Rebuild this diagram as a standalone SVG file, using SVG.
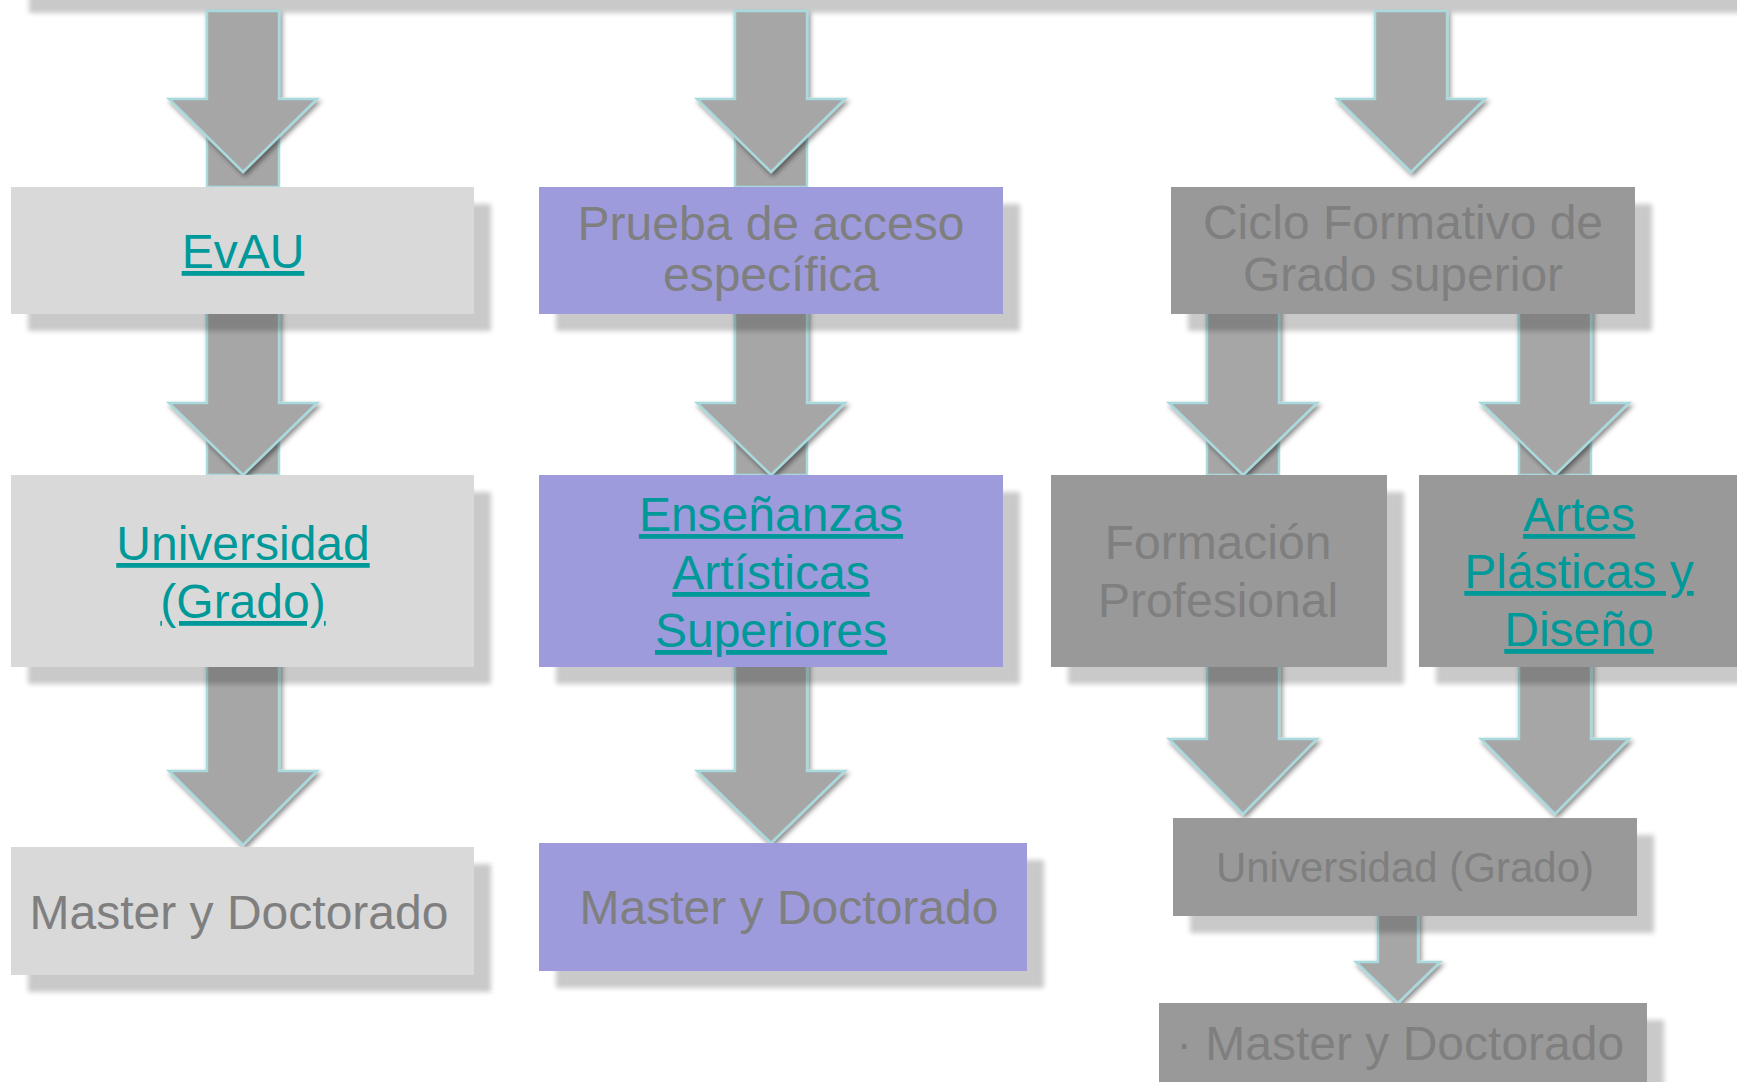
<svg xmlns="http://www.w3.org/2000/svg" width="1737" height="1082" viewBox="0 0 1737 1082">
<defs>
<style>
.t{font-family:"Liberation Sans",Arial,sans-serif;font-size:48px;text-anchor:middle;fill:#7f7f7f}
.lk{fill:#009999;text-decoration:underline}
.arr{fill:#a6a6a6;stroke:#a9d9dc;stroke-width:2.5;stroke-linejoin:miter}
.sh{fill:#000;fill-opacity:0.21}
.lt{fill:#d9d9d9}
.pu{fill:#9d9bdc}
.gr{fill:#999999}
</style>
<filter id="blur" x="-10%" y="-10%" width="120%" height="120%"><feGaussianBlur stdDeviation="2.5"/></filter>
<filter id="ds" x="-20%" y="-20%" width="140%" height="140%"><feDropShadow dx="2" dy="3" stdDeviation="2.5" flood-color="#000" flood-opacity="0.45"/></filter>
</defs>
<rect width="1737" height="1082" fill="#ffffff"/>
<rect class="sh" x="29" y="-60" width="1800" height="73" filter="url(#blur)"/>

<g id="connectors">
<!-- column 1 -->
<rect class="arr" x="207" y="11" width="72" height="176"/>
<polygon class="arr" filter="url(#ds)" points="207,11 279,11 279,99 317,99 243,172 169,99 207,99"/>
<rect class="arr" x="207" y="300" width="72" height="175"/>
<polygon class="arr" filter="url(#ds)" points="207,300 279,300 279,403 317,403 243,475 169,403 207,403"/>
<polygon class="arr" filter="url(#ds)" points="207,655 279,655 279,771 317,771 243,845 169,771 207,771"/>
<!-- column 2 -->
<rect class="arr" x="735" y="11" width="72" height="176"/>
<polygon class="arr" filter="url(#ds)" points="735,11 807,11 807,99 845,99 771,172 697,99 735,99"/>
<rect class="arr" x="735" y="300" width="72" height="175"/>
<polygon class="arr" filter="url(#ds)" points="735,300 807,300 807,403 845,403 771,475 697,403 735,403"/>
<polygon class="arr" filter="url(#ds)" points="735,655 807,655 807,771 845,771 771,843 697,771 735,771"/>
<!-- column 3 -->
<polygon class="arr" filter="url(#ds)" points="1375,11 1447,11 1447,99 1485,99 1411,172 1337,99 1375,99"/>
<rect class="arr" x="1207" y="300" width="72" height="175"/>
<polygon class="arr" filter="url(#ds)" points="1207,300 1279,300 1279,403 1317,403 1243,475 1169,403 1207,403"/>
<rect class="arr" x="1519" y="300" width="72" height="175"/>
<polygon class="arr" filter="url(#ds)" points="1519,300 1591,300 1591,403 1629,403 1555,475 1481,403 1519,403"/>
<polygon class="arr" filter="url(#ds)" points="1207,655 1279,655 1279,739 1317,739 1243,814 1169,739 1207,739"/>
<polygon class="arr" filter="url(#ds)" points="1519,655 1591,655 1591,739 1629,739 1555,814 1481,739 1519,739"/>
<polygon class="arr" filter="url(#ds)" points="1378,905 1418,905 1418,962 1440,962 1398,1003 1356,962 1378,962"/>
</g>

<g id="shadows" filter="url(#blur)">
<rect class="sh" x="28" y="204" width="463" height="127"/>
<rect class="sh" x="28" y="492" width="463" height="192"/>
<rect class="sh" x="28" y="864" width="463" height="128"/>
<rect class="sh" x="556" y="204" width="464" height="127"/>
<rect class="sh" x="556" y="492" width="464" height="192"/>
<rect class="sh" x="556" y="860" width="488" height="128"/>
<rect class="sh" x="1188" y="204" width="464" height="127"/>
<rect class="sh" x="1068" y="492" width="336" height="192"/>
<rect class="sh" x="1436" y="492" width="340" height="192"/>
<rect class="sh" x="1190" y="835" width="464" height="98"/>
<rect class="sh" x="1176" y="1020" width="488" height="100"/>
</g>

<g id="evau">
<rect class="lt" x="11" y="187" width="463" height="127"/>
<text class="t lk" x="243" y="268">EvAU</text>
</g>
<g id="universidad1">
<rect class="lt" x="11" y="475" width="463" height="192"/>
<text class="t lk" x="243" y="560">Universidad</text>
<text class="t lk" x="243" y="618">(Grado)</text>
</g>
<g id="master1">
<rect class="lt" x="11" y="847" width="463" height="128"/>
<text class="t" x="239" y="929">Master y Doctorado</text>
</g>
<g id="prueba">
<rect class="pu" x="539" y="187" width="464" height="127"/>
<text class="t" x="771" y="240">Prueba de acceso</text>
<text class="t" x="771" y="291">específica</text>
</g>
<g id="ensenanzas">
<rect class="pu" x="539" y="475" width="464" height="192"/>
<text class="t lk" x="771" y="531">Enseñanzas</text>
<text class="t lk" x="771" y="589">Artísticas</text>
<text class="t lk" x="771" y="647">Superiores</text>
</g>
<g id="master2">
<rect class="pu" x="539" y="843" width="488" height="128"/>
<text class="t" x="789" y="924">Master y Doctorado</text>
</g>
<g id="ciclo">
<rect class="gr" x="1171" y="187" width="464" height="127"/>
<text class="t" x="1403" y="239">Ciclo Formativo de</text>
<text class="t" x="1403" y="291">Grado superior</text>
</g>
<g id="formacion">
<rect class="gr" x="1051" y="475" width="336" height="192"/>
<text class="t" x="1218" y="559">Formación</text>
<text class="t" x="1218" y="617">Profesional</text>
</g>
<g id="artes">
<rect class="gr" x="1419" y="475" width="340" height="192"/>
<text class="t lk" x="1579" y="531">Artes</text>
<text class="t lk" x="1579" y="588">Plásticas y</text>
<text class="t lk" x="1579" y="646">Diseño</text>
</g>
<g id="universidad2">
<rect class="gr" x="1173" y="818" width="464" height="98"/>
<text class="t" x="1405" y="882" style="font-size:42px">Universidad (Grado)</text>
</g>
<g id="master3">
<rect class="gr" x="1159" y="1003" width="488" height="100"/>
<text class="t" x="1176" y="1060" style="text-anchor:start">· Master y Doctorado</text>
</g>
</svg>
